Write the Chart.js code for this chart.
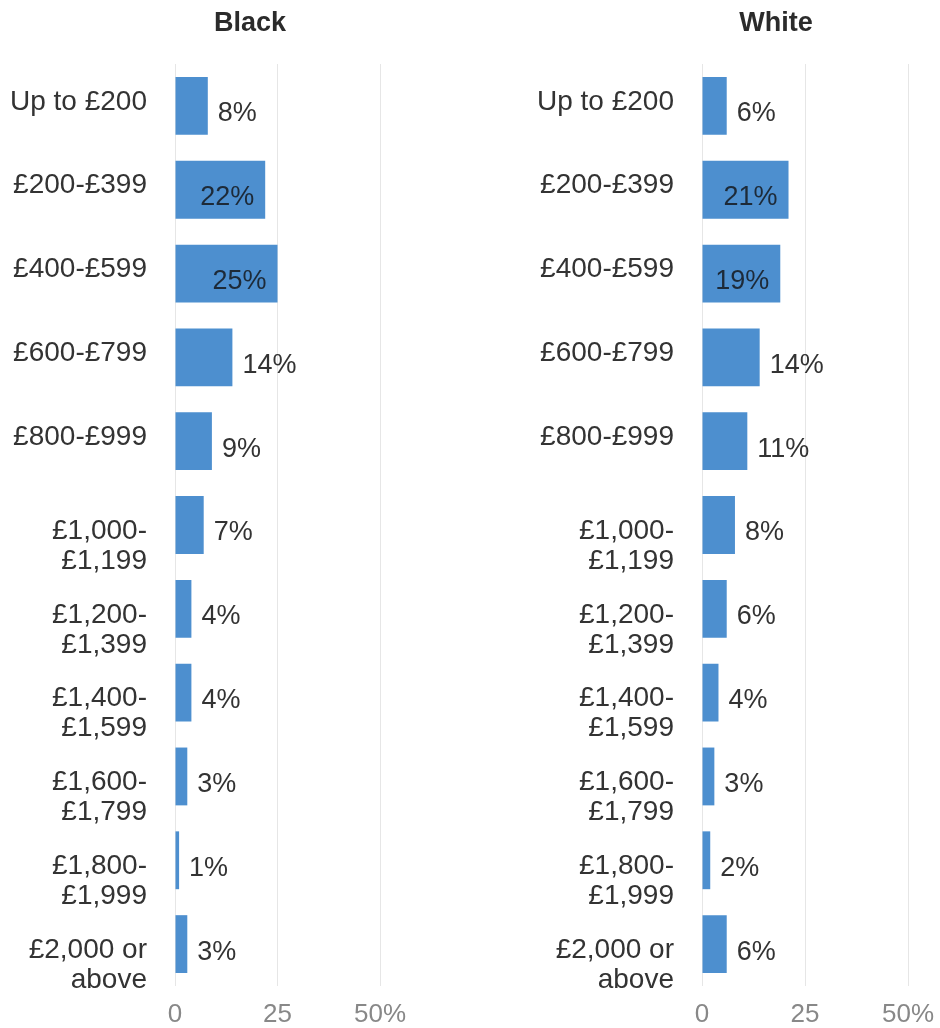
<!DOCTYPE html>
<html>
<head>
<meta charset="utf-8">
<title>Weekly income by ethnicity</title>
<script src="https://cdn.jsdelivr.net/npm/chart.js@4.4.1/dist/chart.umd.min.js"></script>
<style>
    body { margin: 0; background: #fff; }
    .panel { position: absolute; top: 0; width: 470px; height: 1028px; }
    #leftPanel { left: 0; }
    #rightPanel { left: 470px; }
</style>
</head>
<body>
<div class="panel" id="leftPanel"><canvas id="blackChart" width="470" height="1028"></canvas></div>
<div class="panel" id="rightPanel"><canvas id="whiteChart" width="470" height="1028"></canvas></div>
<script>
// data
const categories = [
    'Up to £200',
    '£200-£399',
    '£400-£599',
    '£600-£799',
    '£800-£999',
    ['£1,000-', '£1,199'],
    ['£1,200-', '£1,399'],
    ['£1,400-', '£1,599'],
    ['£1,600-', '£1,799'],
    ['£1,800-', '£1,999'],
    ['£2,000 or', 'above']
];
const blackShares = [8, 22, 25, 14, 9, 7, 4, 4, 3, 1, 3];
const whiteShares = [6, 21, 19, 14, 11, 8, 6, 4, 3, 2, 6];
const axisTicks = [0, 25, 50];

const FONT = "'Liberation Sans', Arial, sans-serif";
const BAR_COLOR = '#4d8fcf';

// value labels next to / inside the bar ends
const valueLabels = {
    id: 'valueLabels',
    afterDatasetsDraw(chart) {
        const ctx = chart.ctx;
        const meta = chart.getDatasetMeta(0);
        const values = chart.data.datasets[0].data;
        ctx.save();
        ctx.font = '27px ' + FONT;
        ctx.textBaseline = 'middle';
        meta.data.forEach((bar, i) => {
            const text = values[i] + '%';
            if (values[i] >= 18) {
                ctx.textAlign = 'right';
                ctx.fillStyle = '#1d2a38';
                ctx.fillText(text, bar.x - 11, bar.y + 8);
            } else {
                ctx.textAlign = 'left';
                ctx.fillStyle = '#333';
                ctx.fillText(text, bar.x + 10, bar.y + 8);
            }
        });
        ctx.restore();
    }
};

// panel heading, centred on a given x of the canvas
const panelTitle = {
    id: 'panelTitle',
    afterDraw(chart, args, opts) {
        const ctx = chart.ctx;
        ctx.save();
        ctx.font = 'bold 27px ' + FONT;
        ctx.fillStyle = '#2b2b2b';
        ctx.textAlign = 'center';
        ctx.textBaseline = 'middle';
        ctx.fillText(opts.text, opts.x, 24);
        ctx.restore();
    }
};

// two-line labels hang from the bar centre, one-line labels sit on it
function isWrapped(index) {
    return Array.isArray(categories[index]);
}

function makeChart(canvasId, title, values, titleX, axisWidth, padRight) {
    return new Chart(document.getElementById(canvasId), {
        type: 'bar',
        data: {
            labels: categories,
            datasets: [{
                data: values,
                backgroundColor: BAR_COLOR,
                barPercentage: 0.69,
                categoryPercentage: 1
            }]
        },
        options: {
            indexAxis: 'y',
            responsive: false,
            animation: false,
            layout: { padding: { left: 0, right: padRight, top: 64, bottom: 0 } },
            plugins: {
                legend: { display: false },
                tooltip: { enabled: false },
                title: { display: false },
                panelTitle: { text: title, x: titleX }
            },
            scales: {
                x: {
                    min: axisTicks[0],
                    max: axisTicks[axisTicks.length - 1],
                    afterBuildTicks(scale) {
                        scale.ticks = axisTicks.map(v => ({ value: v }));
                    },
                    afterFit(scale) {
                        scale.height = 42;
                        scale.paddingLeft = 0;
                        scale.paddingRight = 0;
                    },
                    grid: { color: '#e6e6e6', lineWidth: 1, drawTicks: false },
                    border: { display: false },
                    ticks: {
                        color: '#888',
                        padding: 13,
                        font: { family: FONT, size: 26 },
                        callback: v => v === 50 ? '50%' : v
                    }
                },
                y: {
                    grid: { display: false, drawTicks: false },
                    border: { display: false },
                    ticks: {
                        color: '#333',
                        padding: 28,
                        autoSkip: false,
                        labelOffset: 21,
                        font: c => ({
                            family: FONT,
                            size: 28,
                            lineHeight: isWrapped(c.index) ? '30px' : '50px'
                        }),
                        callback: function(value, index) {
                            const label = categories[index];
                            return isWrapped(index) ? label : [label, ''];
                        }
                    },
                    afterFit(scale) {
                        scale.width = axisWidth;
                        scale.paddingTop = 0;
                        scale.paddingBottom = 0;
                    }
                }
            }
        },
        plugins: [valueLabels, panelTitle]
    });
}

document.addEventListener('DOMContentLoaded', function() {
    makeChart('blackChart', 'Black', blackShares, 250, 175, 90);
    makeChart('whiteChart', 'White', whiteShares, 306, 232, 32);
});
</script>
</body>
</html>
